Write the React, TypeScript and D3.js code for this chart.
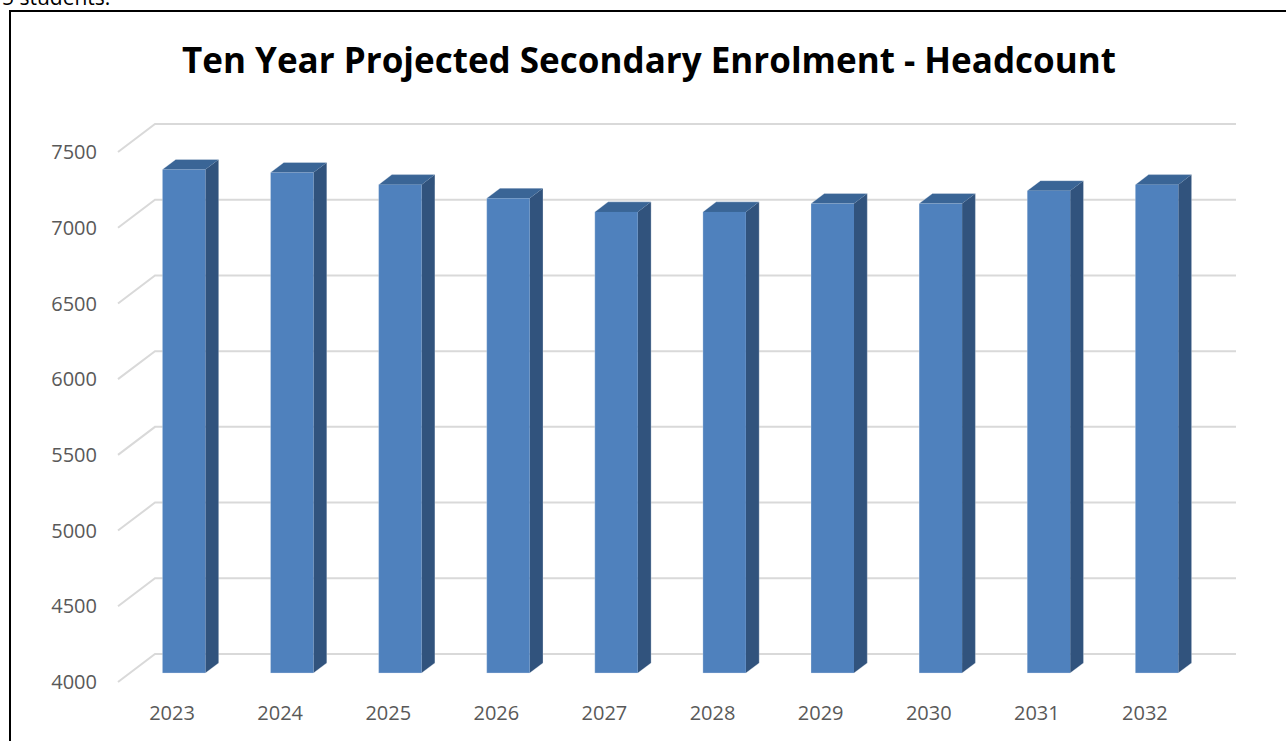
import React from "react";
import * as d3 from "d3";

const years = ["2023", "2024", "2025", "2026", "2027", "2028", "2029", "2030", "2031", "2032"];
const headcount = [7325, 7305, 7225, 7135, 7045, 7045, 7100, 7100, 7185, 7225];
const yTicks = [4000, 4500, 5000, 5500, 6000, 6500, 7000, 7500];

// 3d depth offset (front plane -> back wall)
const depth = { dx: 37, dy: -28 };
const barFront = 0.32,
  barBack = 0.68;

export default function App() {
  const W = 1286,
    H = 741;

  // front plane scales
  const x = d3.scaleBand().domain(years).range([118, 1199]).paddingInner(0).paddingOuter(0);
  const y = d3.scaleLinear().domain([4000, 7500]).range([682, 152]);
  const barW = 43;

  const font = "'Open Sans', 'Noto Sans', sans-serif";

  return (
    <svg width={W} height={H} style={{ position: "absolute", left: 0, top: 0 }}>
      <rect x={0} y={0} width={W} height={H} fill="#fff" />
      {/* clipped text from the page above */}
      <text x={2} y={5} fontFamily={font} fontSize={21} fill="#000">
        5 students.
      </text>
      {/* frame */}
      <path d={`M10,${H + 5} L10,11 L${W + 5},11`} fill="none" stroke="#000" strokeWidth={2} />

      <text
        x={649}
        y={73}
        textAnchor="middle"
        fontFamily={font}
        fontWeight="bold"
        fontSize={35}
        textLength={934}
        lengthAdjust="spacingAndGlyphs"
        fill="#000"
      >
        Ten Year Projected Secondary Enrolment - Headcount
      </text>

      {/* gridlines: left wall diagonal + back wall */}
      {yTicks.map((t) => {
        const yf = y(t);
        const x0 = x.range()[0];
        return (
          <g key={t}>
            <path
              d={`M${x0},${yf} L${x0 + depth.dx},${yf + depth.dy} L${x.range()[1] + depth.dx},${yf + depth.dy}`}
              fill="none"
              stroke="#d9d9d9"
              strokeWidth={2}
            />
            <text
              x={97}
              y={yf}
              dy="0.36em"
              textAnchor="end"
              fontFamily={font}
              fontSize={20}
              fill="#595959"
            >
              {t}
            </text>
          </g>
        );
      })}

      {/* bars */}
      {years.map((yr, i) => {
        const v = headcount[i];
        const c = (x(yr) as number) + x.bandwidth() / 2;
        const fx = c - barW / 2 + depth.dx * barFront;
        const ox = depth.dx * (barBack - barFront);
        const oy = depth.dy * (barBack - barFront);
        const top = y(v) + depth.dy * barFront;
        const bot = y(4000) + depth.dy * barFront;
        return (
          <g key={yr}>
            <path
              d={`M${fx + barW},${top} L${fx + barW + ox},${top + oy} L${fx + barW + ox},${bot + oy} L${fx + barW},${bot} Z`}
              fill="#31537d"
            />
            <path
              d={`M${fx},${top} L${fx + ox},${top + oy} L${fx + barW + ox},${top + oy} L${fx + barW},${top} Z`}
              fill="#3a6596"
            />
            <rect x={fx} y={top} width={barW} height={bot - top} fill="#4f81bd" />
            <path
              d={`M${fx},${top} L${fx + ox},${top + oy} L${fx + barW + ox},${top + oy} L${fx + barW + ox},${bot + oy} L${fx + barW},${bot} L${fx},${bot} Z`}
              fill="none"
              stroke="rgba(255,255,255,0.35)"
              strokeWidth={0.8}
            />
          </g>
        );
      })}

      {/* x labels */}
      {years.map((yr) => (
        <text
          key={yr}
          x={(x(yr) as number) + x.bandwidth() / 2}
          y={720}
          textAnchor="middle"
          fontFamily={font}
          fontSize={20}
          fill="#595959"
        >
          {yr}
        </text>
      ))}
    </svg>
  );
}
